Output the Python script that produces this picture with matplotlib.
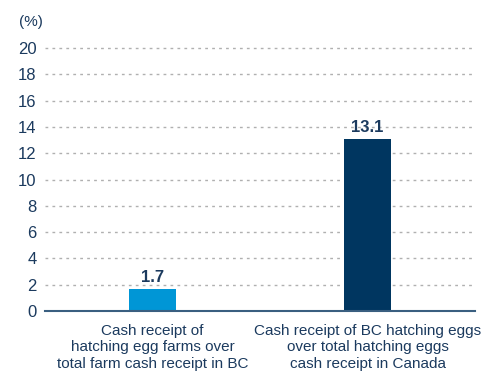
import matplotlib
matplotlib.use("Agg")
import matplotlib.pyplot as plt
from matplotlib import font_manager

categories = ["Cash receipt of\nhatching egg farms over\ntotal farm cash receipt in BC",
              "Cash receipt of BC hatching eggs\nover total hatching eggs\ncash receipt in Canada"]
values = [1.7, 13.1]
colors = ["#0096D6", "#003660"]
yticks = [0, 2, 4, 6, 8, 10, 12, 14, 16, 18, 20]

names = {f.name for f in font_manager.fontManager.ttflist}
fam = "Liberation Sans Narrow" if "Liberation Sans Narrow" in names else "Liberation Sans"
plt.rcParams['font.family'] = [fam, 'DejaVu Sans']
txt = "#1B3A5E"

fig = plt.figure(figsize=(4.95, 3.75), dpi=100)
ax = fig.add_axes([45/495, 1-311/375, 430/495, 263/375])
x = list(range(len(values)))
ax.bar(x, values, width=0.222, color=colors, zorder=3)
for xi, v in zip(x, values):
    ax.text(xi, v + 0.25, f"{v}", ha="center", va="bottom", fontsize=12,
            fontweight="bold", color=txt)
ax.set_xlim(-0.5, 1.5)
ax.set_ylim(0, 20)
ax.set_yticks(yticks)
ax.set_yticklabels([str(t) for t in yticks], fontsize=12, color=txt)
ax.set_xticks(x)
ax.set_xticklabels(categories, fontsize=11, color=txt, linespacing=1.25)
ax.tick_params(axis="both", length=0, pad=6)
ax.tick_params(axis="x", pad=9)
for g in yticks[1:]:
    ax.axhline(g, color="#B0B0B0", linestyle=(0, (2, 3)), linewidth=1, zorder=1, clip_on=False)
for s in ["left", "right", "top"]:
    ax.spines[s].set_visible(False)
ax.spines["bottom"].set_color("#3A5F80")
ax.spines["bottom"].set_linewidth(1.5)
ax.spines["bottom"].set_zorder(4)
fig.text(19/495, 1-22/375, "(%)", fontsize=11, color=txt, ha="left", va="center")
fig.savefig("out.png", dpi=100)
